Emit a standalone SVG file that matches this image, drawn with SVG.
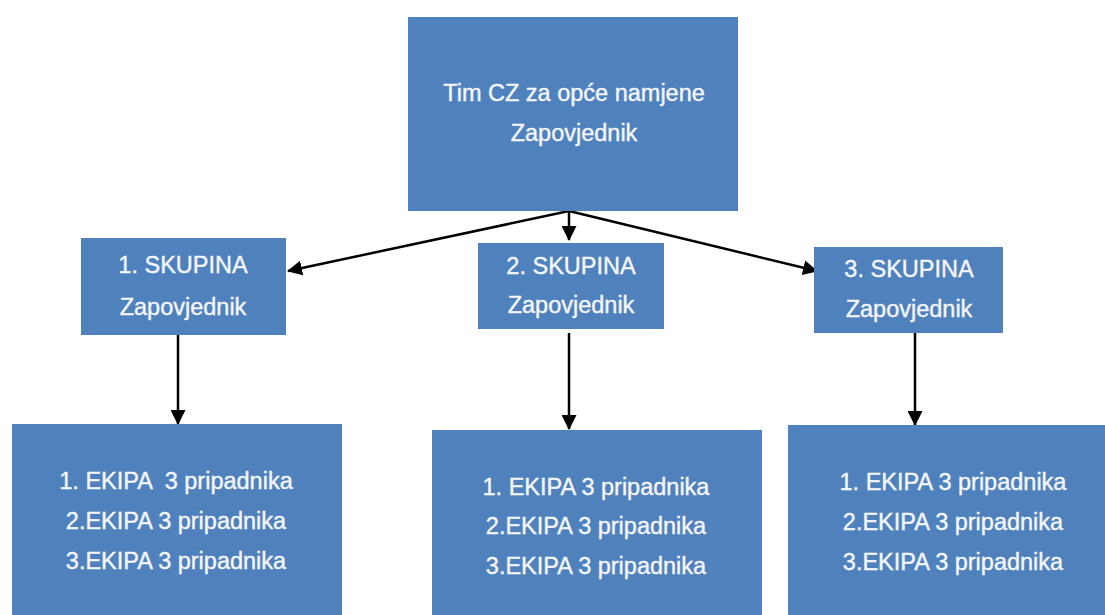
<svg xmlns="http://www.w3.org/2000/svg" width="1105" height="615" viewBox="0 0 1105 615">
<style>
.box{fill:#4F81BD;}
.t{fill:#F4F6FA;stroke:#F4F6FA;stroke-width:0.4;font-family:"Liberation Sans","Noto Sans",sans-serif;font-size:23.5px;text-anchor:middle;white-space:pre;}
.c{stroke:#000;stroke-width:2.5;fill:none;marker-end:url(#ah);}
</style>
<defs>
<marker id="ah" markerWidth="6" markerHeight="6" refX="5.6" refY="3" orient="auto" markerUnits="strokeWidth">
<path d="M0,0 L6,3 L0,6 Z" fill="#000"/>
</marker>
</defs>
<rect width="1105" height="615" fill="#fff"/>
<g id="connectors">
<line class="c" x1="569" y1="211" x2="288" y2="271"/>
<line class="c" x1="569" y1="211" x2="569" y2="240"/>
<line class="c" x1="569" y1="211" x2="817" y2="271"/>
<line class="c" x1="178" y1="335" x2="178" y2="424"/>
<line class="c" x1="569" y1="333" x2="569" y2="429"/>
<line class="c" x1="915" y1="333" x2="915" y2="425"/>
</g>
<g id="top">
<rect class="box" x="408" y="17" width="330" height="194"/>
<text class="t" x="574" y="101">Tim CZ za opće namjene</text>
<text class="t" x="574" y="141">Zapovjednik</text>
</g>
<g id="skupina1">
<rect class="box" x="81" y="238" width="205" height="97"/>
<text class="t" x="183" y="273">1. SKUPINA</text>
<text class="t" x="183" y="315">Zapovjednik</text>
</g>
<g id="skupina2">
<rect class="box" x="478" y="243" width="186" height="86"/>
<text class="t" x="571" y="274">2. SKUPINA</text>
<text class="t" x="571" y="313">Zapovjednik</text>
</g>
<g id="skupina3">
<rect class="box" x="814" y="247" width="189" height="86"/>
<text class="t" x="909" y="277">3. SKUPINA</text>
<text class="t" x="909" y="317">Zapovjednik</text>
</g>
<g id="ekipe1">
<rect class="box" x="12" y="424" width="330" height="191"/>
<text class="t" x="176" y="489" xml:space="preserve">1. EKIPA  3 pripadnika</text>
<text class="t" x="176" y="529">2.EKIPA 3 pripadnika</text>
<text class="t" x="176" y="569">3.EKIPA 3 pripadnika</text>
</g>
<g id="ekipe2">
<rect class="box" x="432" y="430" width="330" height="185"/>
<text class="t" x="596" y="495">1. EKIPA 3 pripadnika</text>
<text class="t" x="596" y="534">2.EKIPA 3 pripadnika</text>
<text class="t" x="596" y="574">3.EKIPA 3 pripadnika</text>
</g>
<g id="ekipe3">
<rect class="box" x="788" y="425" width="317" height="190"/>
<text class="t" x="953" y="490">1. EKIPA 3 pripadnika</text>
<text class="t" x="953" y="530">2.EKIPA 3 pripadnika</text>
<text class="t" x="953" y="570">3.EKIPA 3 pripadnika</text>
</g>
</svg>
